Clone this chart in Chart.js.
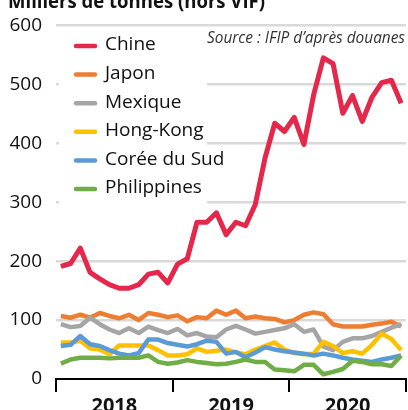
<!DOCTYPE html>
<html lang="fr">
<head>
<meta charset="UTF-8">
<title>Exportations par destination</title>
<script src="https://cdn.jsdelivr.net/npm/chart.js"></script>
<style>
    html, body { margin: 0; padding: 0; background: #fff; }
    #wrap { width: 408px; height: 410px; }
</style>
</head>
<body>
<div id="wrap"><canvas id="lineChart"></canvas></div>
<script>
    // Données (milliers de tonnes, mensuel janv. 2018 -> déc. 2020)
    const annees = ['2018', '2019', '2020'];
    const nomsMois = ['janv', 'févr', 'mars', 'avr', 'mai', 'juin', 'juil', 'août', 'sept', 'oct', 'nov', 'déc'];
    const yTicks = [0, 100, 200, 300, 400, 500, 600];

    const chine       = [191,196,222,181,170,160,154,154,160,178,181,163,195,204,266,266,282,245,266,260,296,375,434,420,444,398,482,545,535,451,481,437,478,503,507,468];
    const japon       = [107,104,109,104,112,107,103,109,100,112,109,105,108,98,105,103,116,109,116,103,106,103,102,96,100,109,113,110,93,89,89,89,92,94,97,89];
    const mexique     = [93,88,90,104,93,84,78,86,78,89,83,78,85,74,78,72,71,84,90,84,77,80,83,86,93,80,84,55,49,63,69,69,73,80,87,93];
    const hongKong    = [62,62,65,52,50,42,57,57,57,57,49,40,40,42,52,46,48,50,45,42,50,56,62,50,44,42,43,63,56,44,47,43,58,77,68,49];
    const coree       = [56,58,73,59,56,49,43,40,44,67,67,61,58,55,59,65,63,43,46,37,45,54,50,47,45,43,40,43,40,36,33,31,29,33,36,40];
    const philippines = [26,33,36,36,36,35,36,36,36,40,29,26,28,32,29,27,25,26,29,33,29,29,16,15,13,24,24,8,12,17,31,29,25,25,22,40];

    const labels = [];
    annees.forEach(a => nomsMois.forEach(m => labels.push(m + ' ' + a)));

    const series = [
        { label: 'Chine', data: chine, color: '#e5274b', width: 5 },
        { label: 'Japon', data: japon, color: '#ed7d31', width: 4.5 },
        { label: 'Mexique', data: mexique, color: '#a5a5a5', width: 4.5 },
        { label: 'Hong-Kong', data: hongKong, color: '#ffc000', width: 4.5 },
        { label: 'Corée du Sud', data: coree, color: '#5b9bd5', width: 4.5 },
        { label: 'Philippines', data: philippines, color: '#70ad47', width: 4.5 }
    ];

    const police = '"Open Sans", "Liberation Sans", sans-serif';

    // légende dans la zone du graphique, fond blanc qui coupe le quadrillage
    const legendeInterne = {
        id: 'legendeInterne',
        beforeDatasetsDraw(chart) {
            const ctx = chart.ctx;
            ctx.save();
            ctx.fillStyle = '#fff';
            ctx.fillRect(59, 28, 148, 177);
            ctx.font = '19px ' + police;
            ctx.textBaseline = 'middle';
            ctx.lineCap = 'round';
            series.forEach((s, i) => {
                const y = 45 + i * 28.6;
                ctx.strokeStyle = s.color;
                ctx.lineWidth = 4.5;
                ctx.beginPath();
                ctx.moveTo(76, y + 1);
                ctx.lineTo(95, y + 1);
                ctx.stroke();
                ctx.fillStyle = '#111';
                ctx.fillText(s.label, 105, y);
            });
            ctx.restore();
        },
        afterDraw(chart) {
            const ctx = chart.ctx;
            ctx.save();
            ctx.fillStyle = '#111';
            ctx.font = 'bold 20px ' + police;
            ctx.textBaseline = 'alphabetic';
            ctx.fillText('Milliers de tonnes (hors VIF)', 8, 8, 257);
            ctx.font = 'italic 16px ' + police;
            ctx.fillStyle = '#333';
            ctx.textAlign = 'right';
            ctx.fillText('Source : IFIP d\u2019après douanes', 405, 43, 198);
            ctx.restore();
        }
    };

    const ctx = document.getElementById('lineChart').getContext('2d');
    new Chart(ctx, {
        type: 'line',
        data: {
            labels: labels,
            datasets: series.map((s, i) => ({
                label: s.label,
                data: s.data,
                borderColor: s.color,
                backgroundColor: s.color,
                borderWidth: s.width,
                pointRadius: 0,
                tension: 0,
                borderJoinStyle: 'round',
                order: series.length - i
            }))
        },
        options: {
            responsive: true,
            maintainAspectRatio: false,
            animation: false,
            layout: { padding: { left: 8, top: 23, right: 2, bottom: 0 } },
            plugins: {
                legend: { display: false },
                tooltip: { enabled: false }
            },
            scales: {
                x: {
                    type: 'category',
                    display: false,
                    offset: true
                },
                x2: {
                    type: 'category',
                    labels: annees,
                    position: 'bottom',
                    offset: true,
                    grid: {
                        offset: true,
                        drawOnChartArea: false,
                        color: '#000',
                        lineWidth: 2,
                        tickLength: 13
                    },
                    border: { display: true, color: '#000', width: 2 },
                    ticks: {
                        color: '#111',
                        font: { family: police, size: 20, weight: 'bold' },
                        padding: 2,
                        maxRotation: 0
                    },
                    afterFit(scale) { scale.height = 31; }
                },
                y: {
                    min: 0,
                    max: 600,
                    afterBuildTicks(scale) { scale.ticks = yTicks.map(v => ({ value: v })); },
                    grid: {
                        color: c => (c.tick && c.tick.value === 0) ? 'rgba(0,0,0,0)' : '#d9d9d9',
                        lineWidth: 2.5,
                        drawTicks: false
                    },
                    border: { display: false },
                    ticks: {
                        color: '#111',
                        font: { family: police, size: 19 },
                        padding: 14
                    },
                    afterFit(scale) { scale.width = 48; }
                }
            }
        },
        plugins: [legendeInterne]
    });
</script>
</body>
</html>
